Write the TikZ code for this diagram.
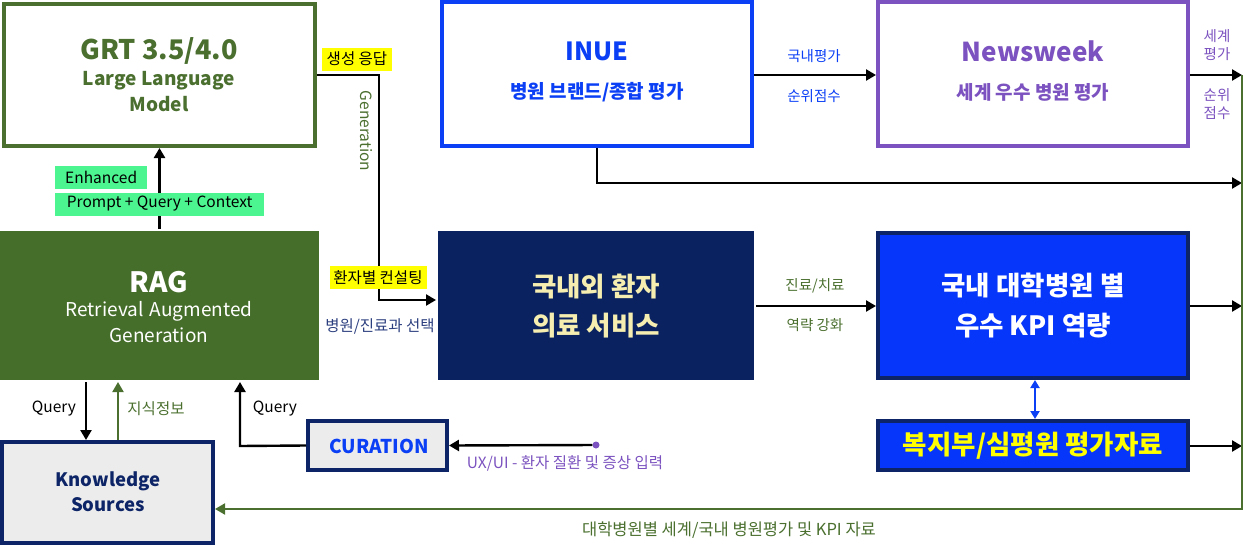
\documentclass[tikz,border=0pt]{standalone}
\usepackage{fontspec}
\setmainfont{Noto Sans CJK KR}
\usetikzlibrary{arrows.meta}
\definecolor{grn}{HTML}{4A6F2E}
\definecolor{ragc}{HTML}{466E2B}
\definecolor{navy}{HTML}{0A2260}
\definecolor{bord}{HTML}{0D2566}
\definecolor{blu}{HTML}{0536FA}
\definecolor{inue}{HTML}{0A3FF5}
\definecolor{purp}{HTML}{7B52BF}
\definecolor{mint}{HTML}{4CF590}
\definecolor{ksfill}{HTML}{ECECEC}
\definecolor{cream}{HTML}{F5EEB0}
\definecolor{yel}{HTML}{FFFF00}
\definecolor{selc}{HTML}{2B3E7E}
\newcommand{\fs}[1]{\fontsize{#1}{#1}\selectfont}
\tikzset{
  box/.style={rectangle, inner sep=0pt, line width=4pt},
  txt/.style={inner sep=0pt, anchor=center},
  arr/.style={line width=2.4pt, -{Triangle[length=10pt,width=11pt]}},
  garr/.style={line width=2pt, draw=grn, -{Triangle[length=10pt,width=11pt]}, color=grn},
  small/.style={txt, font=\fs{15.5}},
  tiny/.style={txt, font=\fs{14.5}},
  tag/.style={inner sep=0pt, font=\fs{15.5}, minimum height=23pt},
  mtag/.style={inner ysep=0pt, inner xsep=10pt, font=\fs{15.5}, minimum height=23pt, fill=mint, anchor=west},
}
\begin{document}
\begin{tikzpicture}[x=1pt, y=-1pt]
\useasboundingbox (0,0) rectangle (1243,546);

% boxes
\node[box, draw=grn, fill=white, minimum width=311pt, minimum height=142pt] (grt) at (159.5,75) {};
\node[box, draw=inue, fill=white, minimum width=310pt, minimum height=144pt] (inue) at (597,74) {};
\node[box, draw=purp, fill=white, minimum width=310pt, minimum height=144pt] (nw) at (1033,74) {};
\node[box, draw=none, fill=ragc, minimum width=319pt, minimum height=149pt] (rag) at (159.5,305.5) {};
\node[box, draw=none, fill=navy, minimum width=316pt, minimum height=149pt] (kor) at (596,305.5) {};
\node[box, draw=bord, fill=blu, minimum width=310pt, minimum height=145pt] (kpi) at (1033,305.5) {};
\node[box, draw=bord, fill=blu, minimum width=310pt, minimum height=49pt] (bok) at (1033,445.5) {};
\node[box, draw=bord, fill=ksfill, minimum width=211pt, minimum height=101pt] (ks) at (107.5,492.5) {};
\node[box, draw=bord, fill=ksfill, minimum width=139pt, minimum height=49pt] (cur) at (377.5,445.5) {};

% box texts
\node[txt, text=grn, font=\fs{27}\bfseries] (t1) at (159,51) {GRT 3.5/4.0};
\node[txt, text=grn, font=\fs{19}\bfseries] (t2) at (159,81) {Large Language};
\node[txt, text=grn, font=\fs{19}\bfseries] (t3) at (159,104) {Model};
\node[txt, text=inue, font=\fs{25}\bfseries] (t4) at (597,51) {INUE};
\node[txt, text=inue, font=\fs{19}\bfseries] (t5) at (597,92) {병원 브랜드/종합 평가};
\node[txt, text=purp, font=\fs{26}\bfseries] (t6) at (1033,51) {Newsweek};
\node[txt, text=purp, font=\fs{19}\bfseries] (t7) at (1033,92) {세계 우수 병원 평가};
\node[txt, text=white, font=\fs{28}\bfseries] (t8) at (159,282) {RAG};
\node[txt, text=white, font=\fs{19}] (t9) at (159,311) {Retrieval\hspace{2pt} Augmented};
\node[txt, text=white, font=\fs{19}] (t10) at (159,335) {Generation};
\node[txt, text=cream, font=\fs{26.5}\bfseries] (t11) at (596,287) {국내외 환자};
\node[txt, text=cream, font=\fs{26.5}\bfseries] (t12) at (596,326) {의료 서비스};
\node[txt, text=white, font=\fs{26.5}\bfseries] (t13) at (1033,286) {국내 대학병원 별};
\node[txt, text=white, font=\fs{26.5}\bfseries] (t14) at (1033,326) {우수 KPI 역량};
\node[txt, text=yel, font=\fs{26.5}\bfseries] (t15) at (1033,446) {복지부/심평원 평가자료};
\node[txt, text=bord, font=\fs{18.5}\bfseries] (t16) at (108,481) {Knowledge};
\node[txt, text=bord, font=\fs{18.5}\bfseries] (t17) at (108,505) {Sources};
\node[txt, text=inue, font=\fs{19}\bfseries] (t18) at (379,446) {CURATION};

% helper coordinates
\coordinate (g1) at (379,75);
\coordinate (g2) at (379,300);
\coordinate (q1) at (86,0);
\coordinate (q2) at (118,0);
\coordinate (q3) at (240,446);
\coordinate (ib) at (597,183);
\coordinate (r1) at (1242,75);
\coordinate (r2) at (1242,183);
\coordinate (r3) at (1242,306);
\coordinate (r4) at (1242,446);
\coordinate (r5) at (1242,509);
\coordinate (dx) at (1035,0);
\node[circle, fill=purp, inner sep=0pt, minimum size=7pt] (dot) at (596,445) {};

% connectors
\draw[arr] (grt.east) -- (g1) -- (g2) -- (kor.west |- g2);
\draw[arr] (rag.north) -- (grt.south);
\draw[arr] (rag.south -| q1) -- (ks.north -| q1);
\draw[garr] (ks.north -| q2) -- (rag.south -| q2);
\draw[arr] (cur.west) -- (q3) -- (rag.south -| q3);
\draw[arr] (dot) -- (cur.east);
\draw[arr] (inue.east |- r1) -- (nw.west |- r1);
\draw[arr] (nw.east |- r1) -- (r1);
\draw[arr] (inue.south) -- (ib) -- (r2);
\draw[arr] (kpi.east |- r3) -- (r3);
\draw[arr] (bok.east |- r4) -- (r4);
\draw[arr] (kor.east |- r3) -- (kpi.west |- r3);
\draw[line width=2pt, draw=inue, {Triangle[length=8pt,width=9pt]}-{Triangle[length=8pt,width=9pt]}] (kpi.south -| dx) -- (bok.north -| dx);
\draw[garr] (r1) -- (r5) -- (ks.east |- r5);

% labels
\node[tag, fill=yel, minimum width=70pt] (l1) at (357,59) {생성 응답};
\node[tag, fill=yel, minimum width=97pt] (l2) at (378,277.5) {환자별 컨설팅};
\node[small, text=grn, rotate=-90] (l3) at (366,131) {Generation};
\node[small, text=selc] (l4) at (380,326) {병원/진료과 선택};
\node[mtag, text width=72pt, align=left] (l5) at (55,177.5) {Enhanced};
\node[mtag, minimum width=209pt] (l6) at (55,204) {Prompt + Query + Context};
\node[small] (l7) at (54,409) {Query};
\node[small, text=grn] (l8) at (156,409) {지식정보};
\node[small] (l9) at (275,409) {Query};
\node[small, text=purp] (l10) at (565,463) {UX/UI - 환자 질환 및 증상 입력};
\node[tiny, text=inue] (l11) at (814,56) {국내평가};
\node[tiny, text=inue] (l12) at (814,96) {순위점수};
\node[tiny, text=grn] (l13) at (815,286) {진료/치료};
\node[tiny, text=grn] (l14) at (815,325) {역략 강화};
\node[tiny, text=purp, align=center] (l15) at (1217,45) {세계\\[3pt]평가};
\node[tiny, text=purp, align=center] (l16) at (1217,104) {순위\\[3pt]점수};
\node[small, text=grn, font=\fs{16.5}] (l17) at (729,530) {대학병원별 세계/국내 병원평가 및 KPI 자료};
\end{tikzpicture}
\end{document}
